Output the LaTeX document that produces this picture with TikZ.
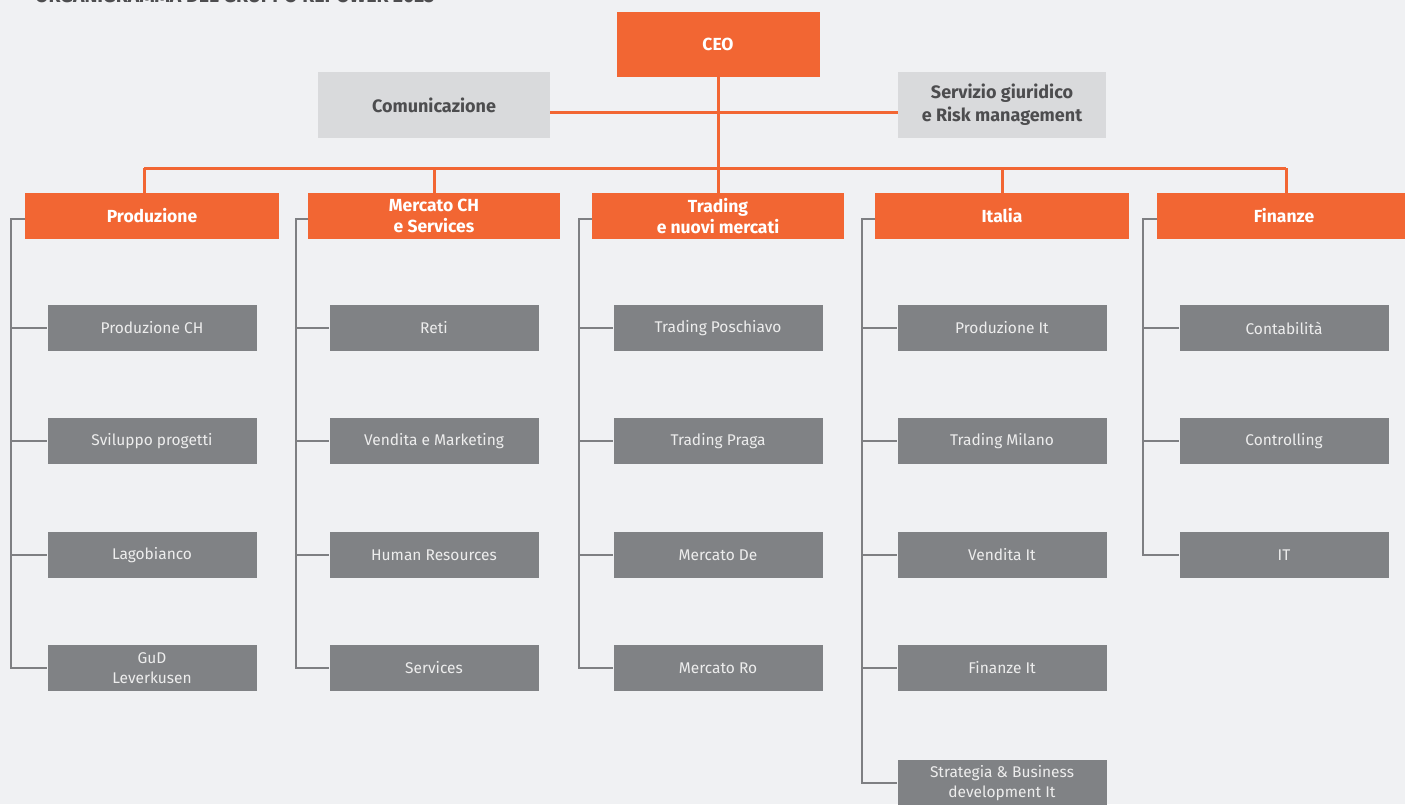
\documentclass[tikz,border=0pt]{standalone}
\usepackage{fontspec}
\setmainfont{Fira Sans}
\definecolor{bg}{HTML}{F0F1F3}
\definecolor{org}{HTML}{F26633}
\definecolor{lgray}{HTML}{D9DADC}
\definecolor{dgray}{HTML}{808285}
\definecolor{ltext}{HTML}{4D4D4F}
\definecolor{wtext}{HTML}{EDEDED}
\definecolor{lcol}{HTML}{7E7F82}
\begin{document}
\begin{tikzpicture}[x=1pt,y=-1pt,
  orangebox/.style={fill=org,text=white,font=\bfseries\fontsize{17.5}{21}\selectfont,align=center,inner sep=0pt},
  staffbox/.style={fill=lgray,text=ltext,font=\bfseries\fontsize{18}{23}\selectfont,align=center,inner sep=0pt},
  unitbox/.style={fill=dgray,text=wtext,font=\fontsize{15.5}{20}\selectfont,align=center,inner sep=0pt,minimum width=209pt,minimum height=46pt},
  oline/.style={draw=org,line width=3pt},
  gline/.style={draw=lcol,line width=2pt}]
\fill[bg] (0,0) rectangle (1405,804);
\useasboundingbox (0,0) rectangle (1405,804);
\node[anchor=base west,inner sep=0pt,text=ltext,font=\bfseries\fontsize{19.5}{22}\selectfont] (title) at (35,2) {ORGANIGRAMMA DEL GRUPPO REPOWER 2023};
% top level
\node[orangebox,minimum width=203pt,minimum height=65pt] (ceo) at (718,44.5) {CEO};
\node[staffbox,minimum width=232pt,minimum height=66pt] (com) at (434,105) {Comunicazione};
\node[staffbox,minimum width=208pt,minimum height=66pt] (leg) at (1002,105) {Servizio giuridico\\e Risk management};
% divisions
\node[orangebox,minimum width=254pt,minimum height=46pt] (prod) at (152,216) {Produzione};
\node[orangebox,minimum width=252pt,minimum height=46pt] (merc) at (434,216) {Mercato CH\\e Services};
\node[orangebox,minimum width=252pt,minimum height=46pt] (trad) at (718,216) {Trading\\e nuovi mercati};
\node[orangebox,minimum width=254pt,minimum height=46pt] (ital) at (1002,216) {Italia};
\node[orangebox,minimum width=254pt,minimum height=46pt] (fin) at (1284,216) {Finanze};
% connectors top
\coordinate (bl) at (144,168);
\coordinate (br) at (1286,168);
\draw[oline] (com.east |- 0,112) -- (leg.west |- 0,112);
\draw[oline] (ceo.south) -- (trad.north);
\draw[oline] (bl) -- (br);
\draw[oline] (bl) -- (144,193);
\draw[oline] (434,168) -- (merc.north);
\draw[oline] (1002,168) -- (ital.north);
\draw[oline] (br) -- (1286,193);
% units
\coordinate (ptop) at (11,219);
\coordinate (mtop) at (296,219);
\coordinate (ttop) at (579,219);
\coordinate (itop) at (862,219);
\coordinate (ftop) at (1143,219);
\node[unitbox] (p1) at (152,328) {Produzione CH};
\node[unitbox] (p2) at (152,441) {Sviluppo progetti};
\node[unitbox] (p3) at (152,555) {Lagobianco};
\node[unitbox] (p4) at (152,668) {GuD\\Leverkusen};
\node[unitbox] (m1) at (434,328) {Reti};
\node[unitbox] (m2) at (434,441) {Vendita e Marketing};
\node[unitbox] (m3) at (434,555) {Human Resources};
\node[unitbox] (m4) at (434,668) {Services};
\node[unitbox] (t1) at (718,328) {Trading Poschiavo};
\node[unitbox] (t2) at (718,441) {Trading Praga};
\node[unitbox] (t3) at (718,555) {Mercato De};
\node[unitbox] (t4) at (718,668) {Mercato Ro};
\node[unitbox] (i1) at (1002,328) {Produzione It};
\node[unitbox] (i2) at (1002,441) {Trading Milano};
\node[unitbox] (i3) at (1002,555) {Vendita It};
\node[unitbox] (i4) at (1002,668) {Finanze It};
\node[unitbox] (i5) at (1002,783) {Strategia \& Business\\development It};
\node[unitbox] (f1) at (1284,328) {Contabilità};
\node[unitbox] (f2) at (1284,441) {Controlling};
\node[unitbox] (f3) at (1284,555) {IT};
% gray connectors
\draw[gline] (prod.west |- ptop) -- (ptop) -- (ptop |- p4) -- (p4.west);
\foreach \n in {p1,p2,p3} \draw[gline] (ptop |- \n) -- (\n.west);
\draw[gline] (merc.west |- mtop) -- (mtop) -- (mtop |- m4) -- (m4.west);
\foreach \n in {m1,m2,m3} \draw[gline] (mtop |- \n) -- (\n.west);
\draw[gline] (trad.west |- ttop) -- (ttop) -- (ttop |- t4) -- (t4.west);
\foreach \n in {t1,t2,t3} \draw[gline] (ttop |- \n) -- (\n.west);
\draw[gline] (ital.west |- itop) -- (itop) -- (itop |- i5) -- (i5.west);
\foreach \n in {i1,i2,i3,i4} \draw[gline] (itop |- \n) -- (\n.west);
\draw[gline] (fin.west |- ftop) -- (ftop) -- (ftop |- f3) -- (f3.west);
\foreach \n in {f1,f2} \draw[gline] (ftop |- \n) -- (\n.west);
\end{tikzpicture}
\end{document}
